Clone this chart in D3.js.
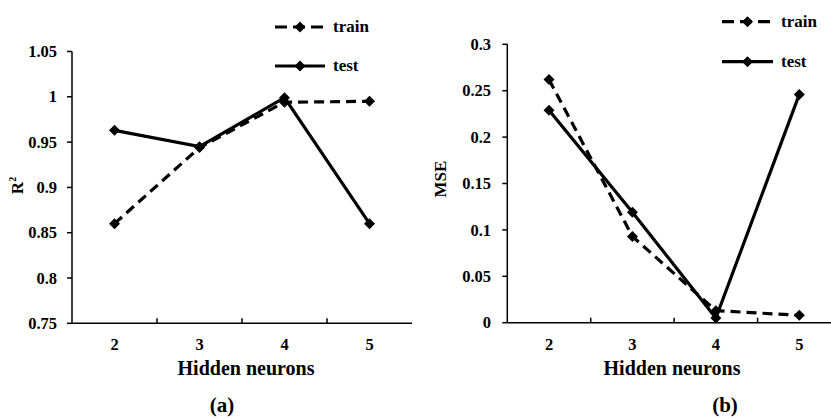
<!DOCTYPE html>
<html>
<head>
<meta charset="utf-8">
<script src="https://cdn.jsdelivr.net/npm/d3@7"></script>
<style>
  html, body { margin: 0; padding: 0; background: #fff; }
  svg { display: block; }
</style>
</head>
<body>
<svg id="chart" width="831" height="419"></svg>
<script>
// Hidden-neuron counts on the x axis
const neurons = ["2", "3", "4", "5"];

// Panel (a): coefficient of determination
const r2Train = [0.860, 0.944, 0.994, 0.995];
const r2Test  = [0.963, 0.945, 0.999, 0.860];
const r2Ticks = [0.75, 0.8, 0.85, 0.9, 0.95, 1, 1.05];
const r2TickLabels = ["0.75", "0.8", "0.85", "0.9", "0.95", "1", "1.05"];

// Panel (b): mean squared error
const mseTrain = [0.262, 0.093, 0.013, 0.008];
const mseTest  = [0.229, 0.119, 0.005, 0.246];
const mseTicks = [0, 0.05, 0.1, 0.15, 0.2, 0.25, 0.3];
const mseTickLabels = ["0", "0.05", "0.1", "0.15", "0.2", "0.25", "0.3"];

const seriesNames = ["train", "test"];

const FONT = "Liberation Serif";
const svg = d3.select("#chart");

// square rotated 45 degrees, as used for the markers
const diamondPath = (s) => `M0,${-s}L${s},0L0,${s}L${-s},0Z`;

function txt(sel, size) {
  return sel.append("text").attr("font-family", FONT).attr("font-weight", "bold")
    .attr("font-size", size).attr("fill", "#000");
}

function panel(cfg) {
  const g = svg.append("g");
  const x = d3.scaleBand().domain(neurons).range([cfg.x0, cfg.x1]);
  const y = d3.scaleLinear().domain([cfg.ticks[0], cfg.ticks[cfg.ticks.length - 1]]).range([cfg.yBottom, cfg.yTop]);

  // y axis: line with outward ticks
  g.append("line").attr("x1", cfg.x0).attr("x2", cfg.x0).attr("y1", y.range()[0]).attr("y2", y.range()[1])
    .attr("stroke", "#000").attr("stroke-width", 1.5);
  cfg.ticks.forEach((t, i) => {
    g.append("line").attr("x1", cfg.x0 - 5).attr("x2", cfg.x0).attr("y1", y(t)).attr("y2", y(t))
      .attr("stroke", "#000").attr("stroke-width", 1.5);
    txt(g, 16.5).attr("x", cfg.tickLabelX).attr("y", y(t)).attr("dy", "0.34em")
      .attr("text-anchor", "end").text(cfg.tickLabels[i]);
  });

  // x axis: baseline with inward ticks between categories
  g.append("line").attr("x1", cfg.x0).attr("x2", cfg.x1).attr("y1", cfg.yBottom).attr("y2", cfg.yBottom)
    .attr("stroke", "#000").attr("stroke-width", 1.5);
  neurons.slice(1).forEach(n => {
    g.append("line").attr("x1", x(n)).attr("x2", x(n)).attr("y1", cfg.yBottom).attr("y2", cfg.yBottom - 5)
      .attr("stroke", "#000").attr("stroke-width", 1.5);
  });
  neurons.forEach(n => {
    txt(g, 16.5).attr("x", x(n) + x.bandwidth() / 2).attr("y", cfg.yBottom + 27)
      .attr("text-anchor", "middle").text(n);
  });
  txt(g, 20).attr("x", cfg.titleX).attr("y", cfg.yBottom + 52)
    .attr("text-anchor", "middle").text("Hidden neurons");

  // rotated y-axis title
  const yt = txt(g, cfg.yTitleSize).attr("transform", `translate(${cfg.yTitleX},${cfg.yTitleY}) rotate(-90)`)
    .attr("text-anchor", "middle");
  yt.append("tspan").text(cfg.yTitle);
  if (cfg.yTitleSup) yt.append("tspan").attr("font-size", 10).attr("dy", -7).text(cfg.yTitleSup);

  // panel caption
  txt(g, 21).attr("x", cfg.capX).attr("y", 412).attr("text-anchor", "middle").text(cfg.caption);

  const cx = n => x(n) + x.bandwidth() / 2;
  const line = d3.line().x((d, i) => cx(neurons[i])).y(d => y(d));

  const drawSeries = (vals, dashed) => {
    g.append("path").datum(vals).attr("d", line).attr("fill", "none").attr("stroke", "#000")
      .attr("stroke-width", 3.2).attr("stroke-dasharray", dashed ? "10,6" : null);
    vals.forEach((v, i) => {
      g.append("path").attr("d", diamondPath(5.5)).attr("transform", `translate(${cx(neurons[i])},${y(v)})`).attr("fill", "#000");
    });
  };
  drawSeries(cfg.train, true);
  drawSeries(cfg.test, false);

  // legend
  [0, 1].forEach(k => {
    const ly = cfg.legY[k];
    g.append("line").attr("x1", cfg.legX).attr("x2", cfg.legX + cfg.legLen).attr("y1", ly).attr("y2", ly)
      .attr("stroke", "#000").attr("stroke-width", 3.2).attr("stroke-dasharray", k === 0 ? "12,6" : null);
    g.append("path").attr("d", diamondPath(5.5)).attr("transform", `translate(${cfg.legX + cfg.legLen / 2},${ly})`).attr("fill", "#000");
    txt(g, 17).attr("x", cfg.legX + cfg.legLen + 8).attr("y", ly).attr("dy", "0.32em")
      .text(seriesNames[k]);
  });
}

panel({
  x0: 72, x1: 412, yTop: 51.5, yBottom: 323.3, tickLabelX: 57,
  ticks: r2Ticks, tickLabels: r2TickLabels,
  train: r2Train, test: r2Test,
  yTitle: "R", yTitleSup: "2", yTitleX: 23, yTitleY: 185.5, yTitleSize: 17,
  caption: "(a)", capX: 222, titleX: 246,
  legX: 275, legLen: 50, legY: [27, 66]
});

panel({
  x0: 507.3, x1: 841, yTop: 44.3, yBottom: 322.7, tickLabelX: 491,
  ticks: mseTicks, tickLabels: mseTickLabels,
  train: mseTrain, test: mseTest,
  yTitle: "MSE", yTitleX: 446, yTitleY: 179, yTitleSize: 17,
  caption: "(b)", capX: 725, titleX: 672,
  legX: 722, legLen: 51, legY: [21.7, 61.7]
});
</script>
</body>
</html>
